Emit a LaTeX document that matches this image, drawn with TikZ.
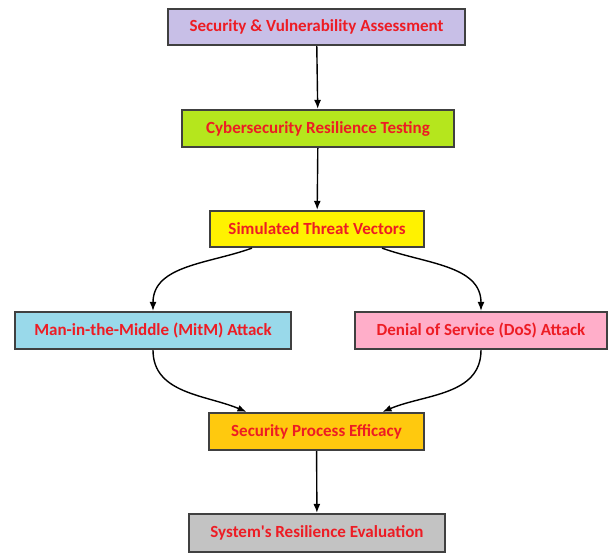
\documentclass[tikz,border=0pt]{standalone}
\usepackage{fontspec}
\setmainfont{Carlito}
\usepackage{tikz}
\usetikzlibrary{arrows.meta}

\definecolor{lavend}{RGB}{200,191,231}
\definecolor{limeg}{RGB}{181,230,29}
\definecolor{yell}{RGB}{255,242,0}
\definecolor{turq}{RGB}{153,217,234}
\definecolor{pinky}{RGB}{255,174,201}
\definecolor{gold}{RGB}{255,201,14}
\definecolor{lgray}{RGB}{195,195,195}
\definecolor{txtred}{RGB}{237,28,36}
\definecolor{edge}{RGB}{64,64,64}

\begin{document}
\begin{tikzpicture}[>=Latex,x=1pt,y=-1pt,
  box/.style={draw=edge,line width=2.2pt,text=txtred,font=\fontsize{17}{20}\selectfont\bfseries,inner sep=0pt},
  flow/.style={->,line width=1.4pt,black,>={Latex[length=9pt,width=7pt]}}]
  \useasboundingbox (0,0) rectangle (611,553);
  % boxes, top to bottom
  \node[box,fill=lavend,minimum width=297pt,minimum height=36pt] (assess) at (316.5,27) {Security \& Vulnerability Assessment};
  \node[box,fill=limeg,minimum width=272pt,minimum height=37pt] (testing) at (318,128.5) {Cybersecurity Resilience Testing};
  \node[box,fill=yell,minimum width=214pt,minimum height=36pt] (threat) at (317,229) {Simulated Threat Vectors};
  \node[box,fill=turq,minimum width=276pt,minimum height=37pt] (mitm) at (153,330.5) {Man-in-the-Middle (MitM) Attack};
  \node[box,fill=pinky,minimum width=252pt,minimum height=37pt] (dos) at (481,330.5) {Denial of Service (DoS) Attack};
  \node[box,fill=gold,minimum width=215pt,minimum height=37pt] (efficacy) at (316.5,431.5) {Security Process Efficacy};
  \node[box,fill=lgray,minimum width=256pt,minimum height=38pt] (evaluation) at (317,533) {System\textquotesingle s Resilience Evaluation};
  % straight arrows
  \draw[flow] (assess) -- (testing);
  \draw[flow] (testing) -- (threat);
  \draw[flow] (efficacy) -- (evaluation);
  % branch out and back in
  \draw[flow] ([xshift=-65pt]threat.south) to[out=200,in=90] (mitm.north);
  \draw[flow] ([xshift=65pt]threat.south) to[out=-20,in=90] (dos.north);
  \draw[flow] (mitm.south) to[out=-90,in=157] ([xshift=-70pt]efficacy.north);
  \draw[flow] (dos.south) to[out=-90,in=23] ([xshift=66pt]efficacy.north);
\end{tikzpicture}
\end{document}
